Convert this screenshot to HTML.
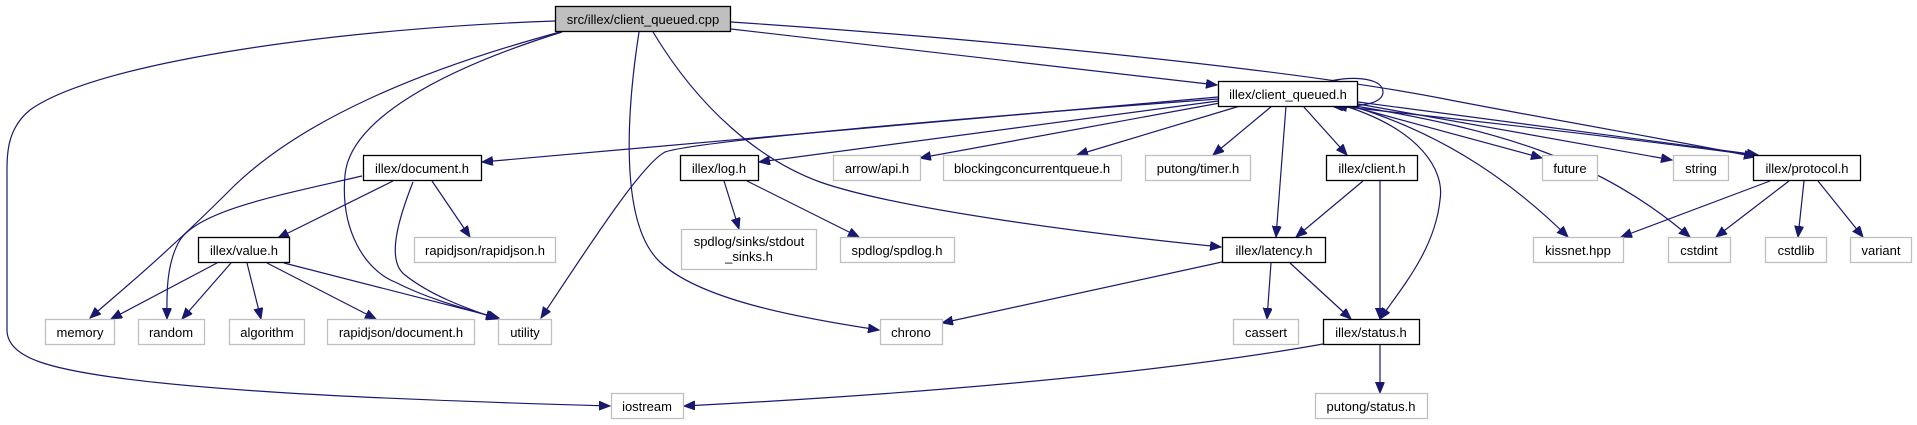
<!DOCTYPE html>
<html><head><meta charset="utf-8"><style>
html,body{margin:0;padding:0;background:#fff;}
svg{display:block;}
text{font-family:"Liberation Sans",sans-serif;font-size:13px;fill:#000;}
.e{fill:none;stroke:#191970;stroke-width:1.2;marker-end:url(#a);}
.n{fill:#fff;stroke:#000;stroke-width:1.3;}
.x{fill:#fff;stroke:#bfbfbf;stroke-width:1.3;}
</style></head><body>
<svg width="1917" height="425" viewBox="0 0 1917 425" xmlns="http://www.w3.org/2000/svg">
<defs><marker id="a" markerUnits="userSpaceOnUse" markerWidth="12" markerHeight="10" refX="11" refY="4.5" orient="auto"><path d="M0,0 L11,4.5 L0,9 z" fill="#191970" stroke="#191970"/></marker></defs>
<g>
<!-- root edges -->
<path class="e" d="M555,21 C350,28 100,60 30,110 C5,130 7,160 7,175 L7,330 C7,345 20,355 40,362 C120,390 400,400 610,406"/>
<path class="e" d="M560,32 C420,70 300,120 230,190 C160,260 110,300 90,318"/>
<path class="e" d="M562,32 C440,70 350,120 345,175 C340,230 365,270 395,282 C430,300 470,310 497,318"/>
<path class="e" d="M639,32 C630,90 615,220 660,262 C700,300 800,318 879,330"/>
<path class="e" d="M653,32 C700,110 760,160 820,182 C900,210 1100,235 1221,247"/>
<path class="e" d="M731,29 L1217,85"/>
<path class="e" d="M731,22 C1000,40 1300,70 1450,100 C1580,125 1700,145 1755,157"/>
<!-- client_queued.h edges -->
<path class="e" d="M1218,97 L482,162"/>
<path class="e" d="M1218,99 C1000,115 700,140 665,152 C640,165 580,260 541,318"/>
<path class="e" d="M1218,101 L759,162"/>
<path class="e" d="M1220,103 L920,158"/>
<path class="e" d="M1240,106 L1077,155"/>
<path class="e" d="M1272,106 L1213,155"/>
<path class="e" d="M1303,106 L1347,155"/>
<path class="e" d="M1286,106 L1276,237"/>
<path class="e" d="M1345,106 C1420,130 1445,170 1440,200 C1435,250 1400,290 1380,319"/>
<path class="e" d="M1350,106 L1542,158"/>
<path class="e" d="M1358,104 L1672,160"/>
<path class="e" d="M1352,106 C1430,130 1500,170 1568,237"/>
<path class="e" d="M1355,106 C1500,130 1600,160 1690,237"/>
<path class="e" d="M1358,102 L1758,155"/>
<path class="e" d="M1760,156 C1600,135 1450,118 1336,106"/>
<path class="e" d="M1330,81 C1360,75 1383,80 1383,92 C1383,104 1360,107 1332,106"/>
<!-- protocol -->
<path class="e" d="M1770,181 L1621,237"/>
<path class="e" d="M1789,181 L1716,237"/>
<path class="e" d="M1804,181 L1798,237"/>
<path class="e" d="M1818,181 L1863,237"/>
<!-- document -->
<path class="e" d="M362,176 C280,195 200,210 180,240 C165,265 167,300 167,319"/>
<path class="e" d="M393,181 L278,238"/>
<path class="e" d="M413,182 C400,215 385,260 405,275 C430,295 465,308 498,319"/>
<path class="e" d="M432,181 L470,237"/>
<!-- value -->
<path class="e" d="M217,263 L111,319"/>
<path class="e" d="M231,263 L182,319"/>
<path class="e" d="M247,263 L261,319"/>
<path class="e" d="M267,263 L376,319"/>
<path class="e" d="M284,263 L499,318"/>
<!-- log -->
<path class="e" d="M724,181 L739,229"/>
<path class="e" d="M747,181 L859,237"/>
<!-- latency -->
<path class="e" d="M1222,262 L942,323"/>
<path class="e" d="M1271,263 L1267,319"/>
<path class="e" d="M1290,263 L1351,319"/>
<!-- client.h -->
<path class="e" d="M1363,181 L1296,237"/>
<path class="e" d="M1380,181 L1380,319"/>
<!-- status -->
<path class="e" d="M1323,344 C1150,375 900,395 684,406"/>
<path class="e" d="M1380,345 L1380,393"/>
</g>
<g>
<rect x="555.5" y="6.5" width="175" height="25" fill="#bfbfbf" stroke="#000" stroke-width="1.3"/><text x="643" y="24" text-anchor="middle">src/illex/client_queued.cpp</text>
<rect class="n" x="1218.5" y="81.5" width="139" height="25"/><text x="1288" y="99" text-anchor="middle">illex/client_queued.h</text>
<rect class="n" x="363.5" y="155.5" width="118" height="25"/><text x="422" y="173" text-anchor="middle">illex/document.h</text>
<rect class="n" x="680.5" y="155.5" width="78" height="25"/><text x="719" y="173" text-anchor="middle">illex/log.h</text>
<rect class="x" x="833.5" y="155.5" width="87" height="25"/><text x="877" y="173" text-anchor="middle" fill="#000">arrow/api.h</text>
<rect class="x" x="943.5" y="155.5" width="178" height="25"/><text x="1032" y="173" text-anchor="middle">blockingconcurrentqueue.h</text>
<rect class="x" x="1145.5" y="155.5" width="105" height="25"/><text x="1198" y="173" text-anchor="middle">putong/timer.h</text>
<rect class="n" x="1326.5" y="155.5" width="91" height="25"/><text x="1372" y="173" text-anchor="middle">illex/client.h</text>
<rect class="x" x="1542.5" y="155.5" width="55" height="25"/><text x="1570" y="173" text-anchor="middle">future</text>
<rect class="x" x="1673.5" y="155.5" width="55" height="25"/><text x="1701" y="173" text-anchor="middle">string</text>
<rect class="n" x="1753.5" y="155.5" width="107" height="25"/><text x="1807" y="173" text-anchor="middle">illex/protocol.h</text>
<rect class="n" x="198.5" y="237.5" width="91" height="25"/><text x="244" y="255" text-anchor="middle">illex/value.h</text>
<rect class="x" x="414.5" y="237.5" width="141" height="25"/><text x="485" y="255" text-anchor="middle">rapidjson/rapidjson.h</text>
<rect class="x" x="681.5" y="229.5" width="135" height="40"/><text x="749" y="246" text-anchor="middle">spdlog/sinks/stdout</text><text x="749" y="261" text-anchor="middle">_sinks.h</text>
<rect class="x" x="840.5" y="237.5" width="114" height="25"/><text x="897" y="255" text-anchor="middle">spdlog/spdlog.h</text>
<rect class="n" x="1222.5" y="237.5" width="103" height="25"/><text x="1274" y="255" text-anchor="middle">illex/latency.h</text>
<rect class="x" x="1533.5" y="237.5" width="90" height="25"/><text x="1578" y="255" text-anchor="middle">kissnet.hpp</text>
<rect class="x" x="1668.5" y="237.5" width="62" height="25"/><text x="1699" y="255" text-anchor="middle">cstdint</text>
<rect class="x" x="1765.5" y="237.5" width="61" height="25"/><text x="1796" y="255" text-anchor="middle">cstdlib</text>
<rect class="x" x="1850.5" y="237.5" width="61" height="25"/><text x="1881" y="255" text-anchor="middle">variant</text>
<rect class="x" x="45.5" y="319.5" width="69" height="25"/><text x="80" y="337" text-anchor="middle">memory</text>
<rect class="x" x="138.5" y="319.5" width="66" height="25"/><text x="171" y="337" text-anchor="middle">random</text>
<rect class="x" x="229.5" y="319.5" width="75" height="25"/><text x="267" y="337" text-anchor="middle">algorithm</text>
<rect class="x" x="327.5" y="319.5" width="147" height="25"/><text x="401" y="337" text-anchor="middle">rapidjson/document.h</text>
<rect class="x" x="498.5" y="319.5" width="53" height="25"/><text x="525" y="337" text-anchor="middle">utility</text>
<rect class="x" x="880.5" y="319.5" width="62" height="25"/><text x="911" y="337" text-anchor="middle">chrono</text>
<rect class="x" x="1233.5" y="319.5" width="65" height="25"/><text x="1266" y="337" text-anchor="middle">cassert</text>
<rect class="n" x="1323.5" y="319.5" width="96" height="25"/><text x="1371" y="337" text-anchor="middle">illex/status.h</text>
<rect class="x" x="611.5" y="393.5" width="72" height="25"/><text x="647" y="411" text-anchor="middle">iostream</text>
<rect class="x" x="1315.5" y="393.5" width="112" height="25"/><text x="1371" y="411" text-anchor="middle">putong/status.h</text>
</g>
</svg>
</body></html>
